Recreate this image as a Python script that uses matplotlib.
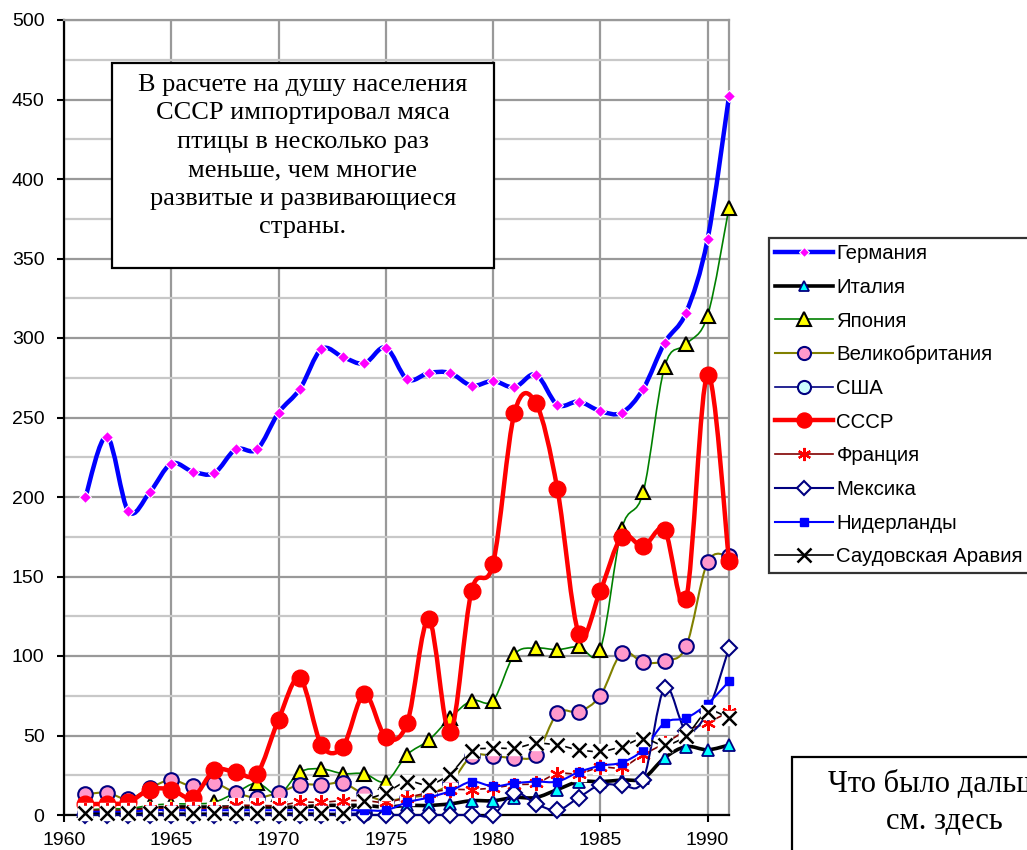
import numpy as np
import matplotlib
matplotlib.use("Agg")
import matplotlib.pyplot as plt
from matplotlib.path import Path
from matplotlib.patches import PathPatch, Rectangle
from matplotlib.lines import Line2D

plt.rcParams["font.family"] = ["Liberation Sans", "DejaVu Sans"]

years = list(range(1961, 1992))

germany = [200, 238, 191, 203, 221, 216, 215, 230, 230, 253, 268, 293, 288, 284, 294,
           274, 278, 278, 270, 273, 269, 277, 258, 260, 254, 253, 268, 297, 316, 362, 452]
italy = [2, 2, 3, 4, 5, 5, 5, 5, 5, 5, 5, 6, 6, 6, 5,
         6, 6, 7, 9, 9, 11, 11, 16, 21, 21, 22, 23, 36, 43, 41, 44]
japan = [3, 4, 4, 6, 7, 7, 8, 14, 20, 13, 27, 29, 26, 26, 21,
         38, 47, 61, 72, 72, 101, 105, 104, 106, 104, 180, 203, 282, 296, 314, 382]
uk = [13, 14, 10, 17, 22, 18, 20, 14, 11, 14, 19, 19, 20, 13, 9,
      11, 13, 20, 37, 37, 36, 38, 64, 65, 75, 102, 96, 97, 106, 159, 163]
usa = [1, 1, 1, 1, 1, 1, 1, 1, 1, 1, 1, 1, 1, 1] + [np.nan] * 17
ussr = [7, 7, 8, 16, 16, 11, 28, 27, 26, 60, 86, 44, 43, 76, 49,
        58, 123, 52, 141, 158, 253, 259, 205, 114, 141, 175, 169, 179, 136, 277, 160]
france = [3, 3, 3, 4, 4, 4, 4, 6, 6, 6, 8, 8, 9, 9, 8,
          11, 14, 16, 16, 17, 19, 20, 26, 26, 30, 30, 38, 45, 53, 58, 65]
mexico = [0, 0, 0, 0, 0, 0, 0, 0, 0, 0, 0, 0, 0, 0, 0,
          0, 0, 0, 0, 0, 14, 7, 3, 11, 19, 19, 22, 80, 53, 65, 105]
netherlands = [2, 2, 2, 3, 3, 3, 3, 3, 3, 3, 3, 3, 3, 3, 3,
               8, 11, 15, 21, 18, 20, 21, 21, 27, 31, 33, 41, 58, 61, 70, 84]
saudi = [1, 1, 1, 1, 1, 1, 1, 1, 1, 1, 1, 1, 1, 9, 14,
         21, 19, 26, 40, 42, 42, 45, 44, 41, 40, 43, 48, 44, 50, 65, 61]

series = [
    ("Германия", germany, dict(color="#0000FF", lw=3.2, marker="D", ms=6, mfc="#FF00FF", mec="white", mew=0.8)),
    ("Италия", italy, dict(color="black", lw=2.6, marker="^", ms=8.5, mfc="#00FFFF", mec="#000080", mew=1.3)),
    ("Япония", japan, dict(color="#008000", lw=1.2, marker="^", ms=10.5, mfc="#FFFF00", mec="black", mew=1.5)),
    ("Великобритания", uk, dict(color="#808000", lw=1.5, marker="o", ms=10.5, mfc="#FF99CC", mec="#000080", mew=1.5)),
    ("США", usa, dict(color="#000080", lw=1.2, marker="o", ms=10.5, mfc="#CCFFFF", mec="#000080", mew=1.5)),
    ("СССР", ussr, dict(color="#FF0000", lw=3.2, marker="o", ms=12, mfc="#FF0000", mec="#FF0000", mew=1)),
    ("Франция", france, dict(color="#800000", lw=1.2, marker=(6, 2, 0), ms=10.5, mfc="#FF0000", mec="#FF0000", mew=1.6)),
    ("Мексика", mexico, dict(color="#000080", lw=1.5, marker="D", ms=8, mfc="white", mec="#000080", mew=1.5)),
    ("Нидерланды", netherlands, dict(color="#0000FF", lw=1.5, marker="s", ms=6, mfc="#0000FF", mec="#0000FF", mew=1)),
    ("Саудовская Аравия", saudi, dict(color="black", lw=1.2, marker="x", ms=10.5, mfc="black", mec="black", mew=1.8)),
]
white_box = {"Франция", "Саудовская Аравия"}


def smooth_patch(x, y, color, lw, z):
    # excel-style smoothed line: cubic bezier through every point
    x = np.asarray(x, float)
    y = np.asarray(y, float)
    ok = ~np.isnan(y)
    verts, codes = [], []
    idx = np.where(ok)[0]
    runs = np.split(idx, np.where(np.diff(idx) > 1)[0] + 1)
    for r in runs:
        if len(r) < 2:
            continue
        p = np.column_stack([x[r], y[r]])
        n = len(p)
        verts.append(p[0])
        codes.append(Path.MOVETO)
        for i in range(n - 1):
            p0 = p[max(i - 1, 0)]
            p1 = p[i]
            p2 = p[i + 1]
            p3 = p[min(i + 2, n - 1)]
            verts += [p1 + (p2 - p0) / 6, p2 - (p3 - p1) / 6, p2]
            codes += [Path.CURVE4] * 3
    if not verts:
        return None
    return PathPatch(Path(verts, codes), fill=False, edgecolor=color, lw=lw,
                     capstyle="round", joinstyle="round", zorder=z, clip_on=False)


W, H = 1027, 850
fig = plt.figure(figsize=(W / 100, H / 100), dpi=100)
ax = fig.add_axes([64 / W, 1 - 815 / H, 665 / W, 795 / H])

handles = []
for k, (name, vals, st) in enumerate(series):
    z = 3 + k * 0.3
    patch = smooth_patch(years, vals, st["color"], st["lw"], z)
    if patch is not None:
        ax.add_patch(patch)
    if name in white_box:
        ax.plot(years, vals, linestyle="none", marker="s", ms=st["ms"] * 0.95,
                mfc="white", mec="white", zorder=z + 0.1, clip_on=False)
    ax.plot(years, vals, linestyle="none", marker=st["marker"], ms=st["ms"],
            mfc=st["mfc"], mec=st["mec"], mew=st["mew"], zorder=z + 0.2, clip_on=False)
    handles.append(Line2D([], [], color=st["color"], lw=st["lw"], marker=st["marker"],
                          ms=st["ms"] * 0.9, mfc=st["mfc"], mec=st["mec"], mew=st["mew"],
                          label=name))

ax.set_xlim(1960, 1991)
ax.set_ylim(0, 500)
ax.set_xticks([1960, 1965, 1970, 1975, 1980, 1985, 1990])
ax.set_yticks(range(0, 501, 50))
ax.set_yticks(range(25, 500, 50), minor=True)
ax.grid(which="major", color="#999999", lw=1.6, zorder=0)
ax.grid(which="minor", axis="y", color="#C8C8C8", lw=1.6, zorder=0)
ax.tick_params(which="minor", left=False)
ax.tick_params(axis="y", direction="out", length=5, width=1.5, pad=9, labelsize=14)
ax.tick_params(axis="x", direction="out", length=5, width=1.5, pad=7, labelsize=14)
for s in ["left", "bottom"]:
    ax.spines[s].set_color("black")
    ax.spines[s].set_linewidth(1.6)
    ax.spines[s].set_zorder(2.5)
for s in ["top", "right"]:
    ax.spines[s].set_color("#999999")
    ax.spines[s].set_linewidth(1.6)

leg = fig.legend(handles=handles, loc="upper left", bbox_to_anchor=(769 / W, 1 - 238 / H),
                 borderaxespad=0, fontsize=14.7, handlelength=2.85, handletextpad=0.15,
                 labelspacing=0.72, borderpad=0.3, frameon=True, fancybox=False)
leg.get_frame().set_edgecolor("black")
leg.get_frame().set_linewidth(1.6)

# text box with the comment
fig.patches.append(Rectangle((112 / W, 1 - 268 / H), 382 / W, 205 / H, transform=fig.transFigure,
                             fill=True, facecolor="white", edgecolor="black", lw=1.6, zorder=10))
fig.text(303 / W, 1 - 156 / H,
         "В расчете на душу населения\nСССР импортировал мяса\nптицы в несколько раз\n"
         "меньше, чем многие\nразвитые и развивающиеся\nстраны.",
         ha="center", va="center", fontsize=19, family="Liberation Serif",
         linespacing=1.38, zorder=11)

fig.patches.append(Rectangle((792 / W, -0.1), 320 / W, 0.1 + 93 / H, transform=fig.transFigure,
                             fill=True, facecolor="white", edgecolor="black", lw=1.6, zorder=10))
fig.text(944 / W, 1 - 803 / H, "Что было дальше,\nсм. здесь", ha="center", va="center",
         fontsize=22, family="Liberation Serif", linespacing=1.4, zorder=11)

fig.savefig("out.png", dpi=100)
